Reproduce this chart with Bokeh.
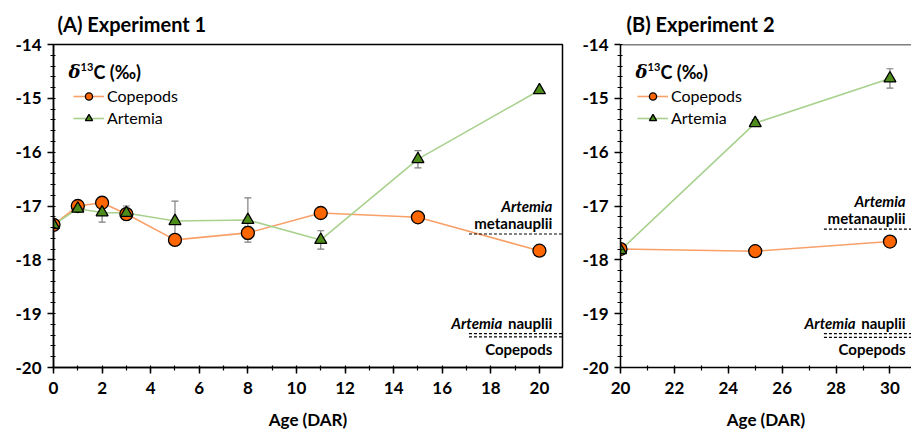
from bokeh.plotting import figure
from bokeh.layouts import row
from bokeh.models import (ColumnDataSource, Whisker, TeeHead, Label, Legend, LegendItem,
                          FixedTicker, Span)
from bokeh.core.properties import value
from bokeh.embed import file_html
from bokeh.resources import INLINE

# ---------------- data ----------------
age_a = [0, 1, 2, 3, 5, 8, 11, 15, 20]
cop_a = [-17.35, -17.0, -16.94, -17.15, -17.63, -17.5, -17.13, -17.21, -17.83]
cop_a_err = [0.03, 0.03, 0.03, 0.06, 0.04, 0.12, 0.03, 0.03, 0.03]
art_a = [-17.35, -17.05, -17.12, -17.13, -17.28, -17.26, -17.63, -16.13, -14.85]
art_a_err = [0.03, 0.03, 0.18, 0.13, 0.37, 0.41, 0.17, 0.16, 0.03]

age_b = [20, 25, 30]
cop_b = [-17.8, -17.84, -17.66]
cop_b_err = [0.03, 0.04, 0.03]
art_b = [-17.82, -15.46, -14.63]
art_b_err = [0.03, 0.06, 0.18]

# diet reference levels (dashed lines): metanauplii, nauplii, copepods
diet_a = [-17.52, -19.37, -19.43]
diet_b = [-17.43, -19.37, -19.44]

y_ticks = [-20, -19, -18, -17, -16, -15, -14]
title_a = "(A) Experiment 1"
title_b = "(B) Experiment 2"
x_label = "Age (DAR)"

FONT = "Lato"
COP_FILL = "#FF6600"
COP_LINE = "#F8A068"
ART_FILL = "#4E8C1C"
ART_LINE = "#A9D18E"
ERR = "#7F7F7F"


def make_panel(width, x_start, x_end, x_ticks, ages, cop, cop_err, art, art_err,
               diet, diet_x0, title, title_x, legend_x, border_left, border_right, outline):
    p = figure(width=width, height=434, x_range=(x_start, x_end), y_range=(-20, -14),
               output_backend="svg", toolbar_location=None,
               min_border_left=border_left, min_border_right=border_right,
               min_border_top=43, min_border_bottom=67)
    p.grid.visible = False
    p.background_fill_color = "white"
    p.border_fill_color = "white"
    p.outline_line_color = "black" if outline else None
    p.outline_line_width = 1.5
    p.outline_line_alpha = 1

    # panel title
    p.title.text = title
    p.title.align = "left"
    p.title.offset = title_x
    p.title.text_font = FONT
    p.title.text_font_style = "bold"
    p.title.text_font_size = "20px"
    p.title.text_color = "black"
    p.title.standoff = 18

    for ax in (p.xaxis[0], p.yaxis[0]):
        ax.axis_line_color = "black"
        ax.axis_line_width = 1.5
        ax.major_tick_line_color = "black"
        ax.minor_tick_line_color = "black"
        ax.major_tick_line_width = 1.5
        ax.minor_tick_line_width = 1.2
        ax.major_label_text_font = FONT
        ax.major_label_text_font_style = "bold"
        ax.major_label_text_font_size = "17px"
        ax.major_label_text_color = "black"
        ax.major_tick_out = 6
        ax.major_tick_in = 0
        ax.minor_tick_out = 3
        ax.minor_tick_in = 2

    p.xaxis.ticker = FixedTicker(ticks=x_ticks, minor_ticks=list(range(int(x_start), int(x_end) + 1)))
    p.yaxis.ticker = FixedTicker(ticks=y_ticks, minor_ticks=[-20 + 0.2 * i for i in range(31)])
    p.yaxis.major_label_overrides = {t: str(t) for t in y_ticks}
    p.xaxis.major_label_standoff = 8
    p.yaxis.major_label_standoff = 6
    p.xaxis.axis_label = x_label
    p.xaxis.axis_label_text_font = FONT
    p.xaxis.axis_label_text_font_style = "bold"
    p.xaxis.axis_label_text_font_size = "17px"
    p.xaxis.axis_label_text_color = "black"
    p.xaxis.axis_label_standoff = 12

    if not outline:
        p.add_layout(Span(location=-14, dimension="width", line_color="black", line_width=1.5))

    src_c = ColumnDataSource(dict(x=ages, y=cop,
                                  lo=[v - e for v, e in zip(cop, cop_err)],
                                  hi=[v + e for v, e in zip(cop, cop_err)]))
    src_a = ColumnDataSource(dict(x=ages, y=art,
                                  lo=[v - e for v, e in zip(art, art_err)],
                                  hi=[v + e for v, e in zip(art, art_err)]))

    lc = p.line("x", "y", source=src_c, line_color=COP_LINE, line_width=1.6)
    la = p.line("x", "y", source=src_a, line_color=ART_LINE, line_width=1.6)

    for s in (src_c, src_a):
        w = Whisker(base="x", lower="lo", upper="hi", source=s, line_color=ERR, line_width=1.2,
                    upper_head=TeeHead(size=7, line_color=ERR, line_width=1.2),
                    lower_head=TeeHead(size=7, line_color=ERR, line_width=1.2))
        p.add_layout(w)

    mc = p.scatter("x", "y", source=src_c, marker="circle", size=13, fill_color=COP_FILL,
                   line_color="black", line_width=1.3)
    ma = p.scatter("x", "y", source=src_a, marker="triangle", size=12, fill_color=ART_FILL,
                   line_color="black", line_width=1.3)

    legend = Legend(items=[LegendItem(label="Copepods", renderers=[lc, mc]),
                           LegendItem(label="Artemia", renderers=[la, ma])],
                    location=(legend_x, 240), padding=0, margin=0, spacing=3,
                    glyph_width=31, glyph_height=18, label_height=18, label_standoff=3,
                    label_text_font=FONT, label_text_font_size="16px",
                    label_text_font_style="normal", label_text_color="black",
                    background_fill_alpha=0, border_line_color=None)
    p.add_layout(legend)

    # delta 13C label
    p.add_layout(Label(x=15, y=296, x_units="screen", y_units="screen",
                       text="δ", text_font="DejaVu Serif", text_font_style="bold italic",
                       text_font_size="18px", text_baseline="middle", text_color="black"))
    p.add_layout(Label(x=27, y=301, x_units="screen", y_units="screen",
                       text="13", text_font=FONT, text_font_style="bold",
                       text_font_size="11px", text_baseline="middle", text_color="black"))
    p.add_layout(Label(x=40, y=296, x_units="screen", y_units="screen",
                       text="C  (‰)", text_font=FONT, text_font_style="bold",
                       text_font_size="18px", text_baseline="middle", text_color="black"))

    # diet reference lines
    x1 = x_end
    p.segment(x0=[diet_x0] * 3, x1=[x1] * 3, y0=diet, y1=diet,
              line_color="black", line_width=1.2, line_dash="3 2")
    xr = x_end - (x_end - x_start) * 0.02
    common = dict(text_font=value(FONT), text_font_size="15px", text_align="right",
                  text_color="black")
    p.text(x=[xr], y=[diet[0]], text=["Artemia"], text_font_style="bold italic",
           text_baseline="bottom", y_offset=-19, **common)
    p.text(x=[xr], y=[diet[0]], text=["metanauplii"], text_font_style="bold",
           text_baseline="bottom", y_offset=-2, **common)
    p.text(x=[xr], y=[diet[1]], text=["nauplii"], text_font_style="bold",
           text_baseline="bottom", y_offset=-2, **common)
    p.text(x=[xr], y=[diet[1]], text=["Artemia"], text_font_style="bold italic",
           text_baseline="bottom", y_offset=-2, x_offset=-50, **common)
    p.text(x=[xr], y=[diet[2]], text=["Copepods"], text_font_style="bold",
           text_baseline="top", y_offset=3, **common)
    return p


pa = make_panel(575, 0, 20.95, list(range(0, 21, 2)), age_a, cop_a, cop_a_err, art_a, art_a_err,
                diet_a, 17.1, title_a, 4, 20, 53, 13, True)
pb = make_panel(336, 20, 30.8, list(range(20, 31, 2)), age_b, cop_b, cop_b_err, art_b, art_b_err,
                diet_b, 27.55, title_b, 6, 17, 45, 0, False)

layout = row(pa, pb)
open("out.html", "w").write(file_html(layout, INLINE))
